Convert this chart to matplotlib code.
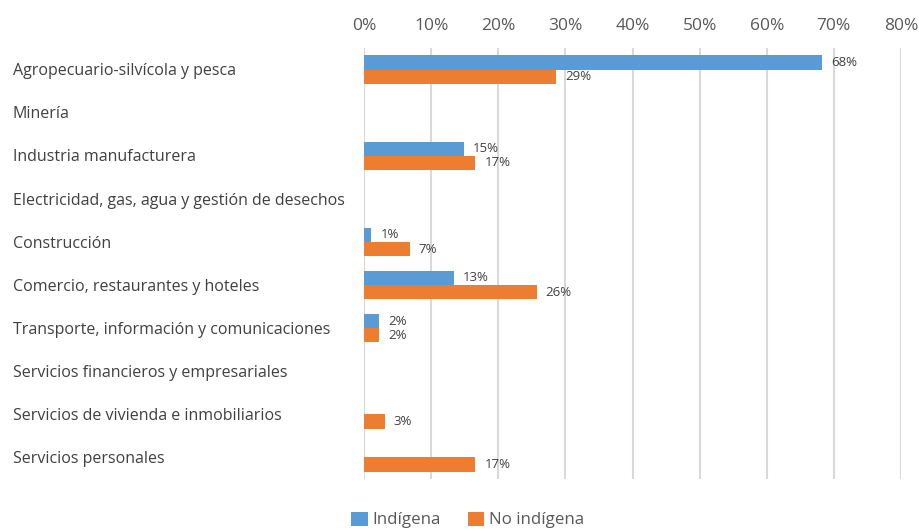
import matplotlib
matplotlib.use("Agg")
import matplotlib.pyplot as plt
import matplotlib.transforms as mtransforms
import numpy as np

categories = [
    "Agropecuario-silvícola y pesca",
    "Minería",
    "Industria manufacturera",
    "Electricidad, gas, agua y gestión de desechos",
    "Construcción",
    "Comercio, restaurantes y hoteles",
    "Transporte, información y comunicaciones",
    "Servicios financieros y empresariales",
    "Servicios de vivienda e inmobiliarios",
    "Servicios personales",
]
indigena = [0.683, 0.0, 0.149, 0.0, 0.011, 0.134, 0.023, 0.0, 0.0, 0.0]
no_indigena = [0.286, 0.0, 0.166, 0.0, 0.068, 0.257, 0.023, 0.0, 0.031, 0.166]
x_ticks = [0, 0.1, 0.2, 0.3, 0.4, 0.5, 0.6, 0.7, 0.8]

BLUE = "#5B9BD5"
ORANGE = "#ED7D31"
GREY_TXT = "#595959"
FONT = ["Open Sans", "DejaVu Sans"]

plt.rcParams["font.family"] = FONT

fig = plt.figure(figsize=(9.2, 5.29), dpi=100)
ax = fig.add_axes([364 / 920, 50 / 529, (901 - 364) / 920, (479 - 48) / 529])

n = len(categories)
y = np.arange(n)
h = 0.33
ax.barh(y - h / 2, indigena, height=h, color=BLUE, label="Indígena", zorder=3)
ax.barh(y + h / 2, no_indigena, height=h, color=ORANGE, label="No indígena", zorder=3)

ax.set_ylim(n - 0.5, -0.5)
ax.set_xlim(0, 0.8)
ax.set_xticks(x_ticks)
ax.set_xticklabels([f"{int(round(t*100))}%" for t in x_ticks], color=GREY_TXT, fontsize=12.5)
ax.xaxis.tick_top()
ax.tick_params(axis="x", length=0, pad=10)
ax.set_yticks([])
ax.grid(axis="x", color="#D9D9D9", linewidth=1.5, zorder=0)
for s in ax.spines.values():
    s.set_visible(False)

# data labels
for vals, off in ((indigena, -h / 2), (no_indigena, h / 2)):
    for i, v in enumerate(vals):
        if v > 0:
            ax.annotate(f"{int(round(v*100))}%", (v, i + off), xytext=(6.5, 0),
                        textcoords="offset points", va="center", ha="left",
                        fontsize=9.5, color="#404040")

# category labels, left aligned
trans = mtransforms.blended_transform_factory(fig.transFigure, ax.transData)
for i, c in enumerate(categories):
    ax.text(13 / 920, i + 0.04, c, transform=trans, ha="left", va="center",
            fontsize=11.5, color="#404040")

leg = fig.legend(loc="center", bbox_to_anchor=(0.508, 1 - 520 / 529), ncol=2, frameon=False,
                 fontsize=12.2, handlelength=1.0, handleheight=0.9, handletextpad=0.25,
                 columnspacing=1.6, borderpad=0, borderaxespad=0)
for t in leg.get_texts():
    t.set_color(GREY_TXT)

fig.savefig("out.png", dpi=100)
